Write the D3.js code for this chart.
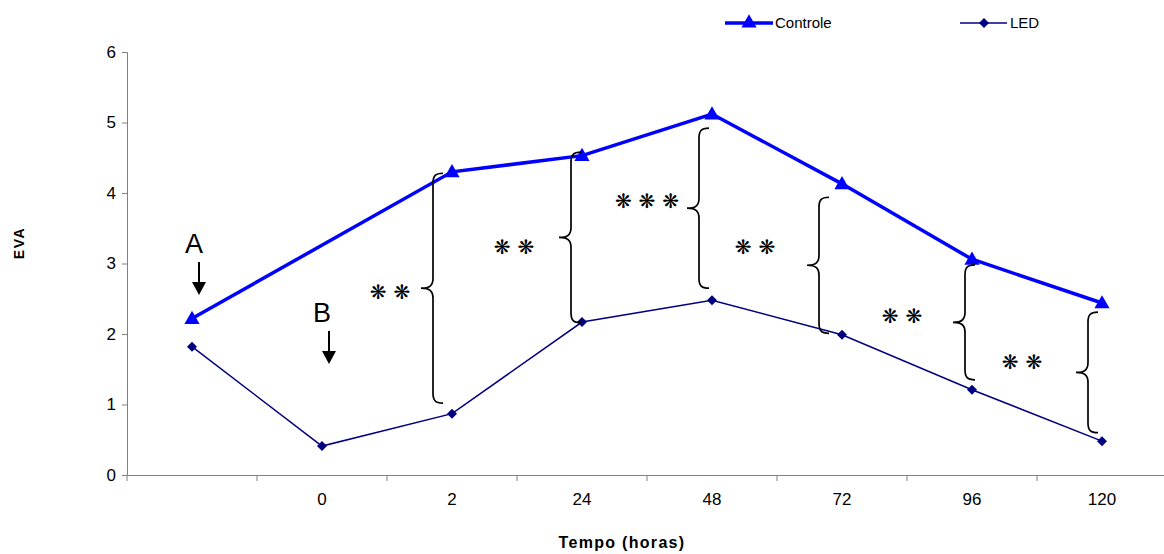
<!DOCTYPE html>
<html>
<head>
<meta charset="utf-8">
<script src="https://cdn.jsdelivr.net/npm/d3@7"></script>
<style>
  body { margin: 0; background: #fff; }
  svg { display: block; font-family: "Liberation Sans", Arial, sans-serif; }
  .tick text { fill: #000; }
</style>
</head>
<body>
<svg id="chart" width="1164" height="554"></svg>
<script>
// categories on the x axis (first one has no label)
const categories = ["", "0", "2", "24", "48", "72", "96", "120"];
const controle = [2.22, null, 4.30, 4.53, 5.12, 4.13, 3.06, 2.44];
const led = [1.82, 0.41, 0.87, 2.17, 2.48, 1.99, 1.21, 0.48];
const yTicks = [0, 1, 2, 3, 4, 5, 6];

// significance braces: category index, top / bottom in EVA units, label
const braceCat = [2, 3, 4, 5, 6, 7];
const braceTop = [4.28, 4.58, 4.92, 3.94, 2.98, 2.31];
const braceBottom = [1.02, 2.16, 2.65, 2.01, 1.35, 0.60];
const starLabels = ["❋ ❋", "❋ ❋", "❋ ❋ ❋", "❋ ❋", "❋ ❋", "❋ ❋"];
const starY = [2.60, 3.24, 3.88, 3.24, 2.26, 1.60];

const svg = d3.select('#chart');

let x = d3.scaleBand().domain(categories).range([127, 1167]);
let y = d3.scaleLinear().domain([0, 6]).range([475, 52]);
let cx = i => x(categories[i]) + x.bandwidth() / 2;

// axes
let yAxis = svg.append('g')
    .attr('transform', 'translate(127,0)')
    .call(d3.axisLeft(y).tickValues(yTicks).tickSize(5).tickPadding(6).tickFormat(d3.format('d')));

let xAxis = svg.append('g')
    .attr('transform', 'translate(0,475)')
    .call(d3.axisBottom(x).tickSize(0).tickPadding(18));

// excel style tick marks between categories
xAxis.selectAll('.tickmark')
    .data(d3.range(categories.length))
    .enter()
    .append('line')
    .attr('x1', i => x(categories[i]))
    .attr('x2', i => x(categories[i]))
    .attr('y1', 0)
    .attr('y2', 6)
    .attr('stroke', '#808080');

svg.selectAll('.domain').attr('stroke', '#808080');
svg.selectAll('.tick line').attr('stroke', '#808080');
svg.selectAll('.tick text').style('font-size', '17px');

// axis titles
svg.append('text')
    .attr('x', 622).attr('y', 548)
    .attr('text-anchor', 'middle')
    .style('font-weight', 'bold').style('font-size', '16px').style('letter-spacing', '1.3px')
    .text('Tempo (horas)');

svg.append('text')
    .attr('transform', 'translate(24,243) rotate(-90)')
    .attr('text-anchor', 'middle')
    .style('font-weight', 'bold').style('font-size', '14px').style('letter-spacing', '1.5px')
    .text('EVA');

// lines
let line = d3.line().x(d => cx(d.i)).y(d => y(d.v));

let ctrlPts = controle.map((v, i) => ({i: i, v: v})).filter(d => d.v != null);
let ledPts = led.map((v, i) => ({i: i, v: v}));

svg.append('path')
    .datum(ledPts)
    .attr('d', line)
    .attr('fill', 'none')
    .attr('stroke', '#000080')
    .attr('stroke-width', 1.5);

svg.append('path')
    .datum(ctrlPts)
    .attr('d', line)
    .attr('fill', 'none')
    .attr('stroke', '#0000ff')
    .attr('stroke-width', 3.5);

let tri = d3.symbol().type(d3.symbolTriangle).size(100);
let sq = d3.symbol().type(d3.symbolSquare).size(50);

svg.selectAll('.ctrl')
    .data(ctrlPts)
    .enter()
    .append('path')
    .attr('d', tri)
    .attr('transform', d => `translate(${cx(d.i)},${y(d.v) + 1})`)
    .attr('fill', '#0000ff');

svg.selectAll('.led')
    .data(ledPts)
    .enter()
    .append('path')
    .attr('d', sq)
    .attr('transform', d => `translate(${cx(d.i)},${y(d.v)}) rotate(45)`)
    .attr('fill', '#000080');

// braces
const braceDx = [-19, -11, -13, -23, -7, -14];
function bracePath(bx, y0, y1) {
  let r = 10, w = 12, ym = (y0 + y1) / 2;
  return `M${bx + r},${y0} C${bx + 2},${y0} ${bx},${y0 + 3} ${bx},${y0 + r} L${bx},${ym - r} C${bx},${ym - 3} ${bx - 3},${ym} ${bx - w},${ym}` +
         ` C${bx - 3},${ym} ${bx},${ym + 3} ${bx},${ym + r} L${bx},${y1 - r} C${bx},${y1 - 3} ${bx + 2},${y1} ${bx + r},${y1}`;
}

braceCat.forEach(function(c, k) {
  let bx = cx(c) + braceDx[k];
  svg.append('path')
      .attr('d', bracePath(bx, y(braceTop[k]), y(braceBottom[k])))
      .attr('fill', 'none')
      .attr('stroke', '#000')
      .attr('stroke-width', 1.7);
});

// star labels sit to the left of each brace
const starX = [390, 514, 647, 755, 902, 1022];
starLabels.forEach(function(s, k) {
  svg.append('text')
      .attr('x', starX[k]).attr('y', y(starY[k]) + 7)
      .attr('text-anchor', 'middle')
      .style('font-family', '"DejaVu Sans", sans-serif')
      .style('font-size', '20px')
      .style('font-weight', 'bold')
      .text(s);
});

// A and B arrows
function arrow(ax, ay) {
  svg.append('line')
      .attr('x1', ax).attr('x2', ax).attr('y1', ay).attr('y2', ay + 21)
      .attr('stroke', '#000').attr('stroke-width', 2);
  svg.append('path')
      .attr('d', `M${ax - 7},${ay + 20} L${ax + 7},${ay + 20} L${ax},${ay + 33} Z`)
      .attr('fill', '#000');
}
svg.append('text').attr('x', 194).attr('y', 253).attr('text-anchor', 'middle')
    .style('font-size', '27px').text('A');
arrow(199, 262);
svg.append('text').attr('x', 322).attr('y', 322).attr('text-anchor', 'middle')
    .style('font-size', '27px').text('B');
arrow(329, 331);

// legend
let legend = svg.append('g');
legend.append('line').attr('x1', 725).attr('x2', 773).attr('y1', 23).attr('y2', 23)
    .attr('stroke', '#0000ff').attr('stroke-width', 3.5);
legend.append('path').attr('d', tri).attr('transform', 'translate(749,23)').attr('fill', '#0000ff');
legend.append('text').attr('x', 775).attr('y', 28).style('font-size', '15px').text('Controle');

legend.append('line').attr('x1', 960).attr('x2', 1007).attr('y1', 23).attr('y2', 23)
    .attr('stroke', '#000080').attr('stroke-width', 1.5);
legend.append('path').attr('d', sq).attr('transform', 'translate(984,23) rotate(45)').attr('fill', '#000080');
legend.append('text').attr('x', 1010).attr('y', 28).style('font-size', '15px').text('LED');
</script>
</body>
</html>
